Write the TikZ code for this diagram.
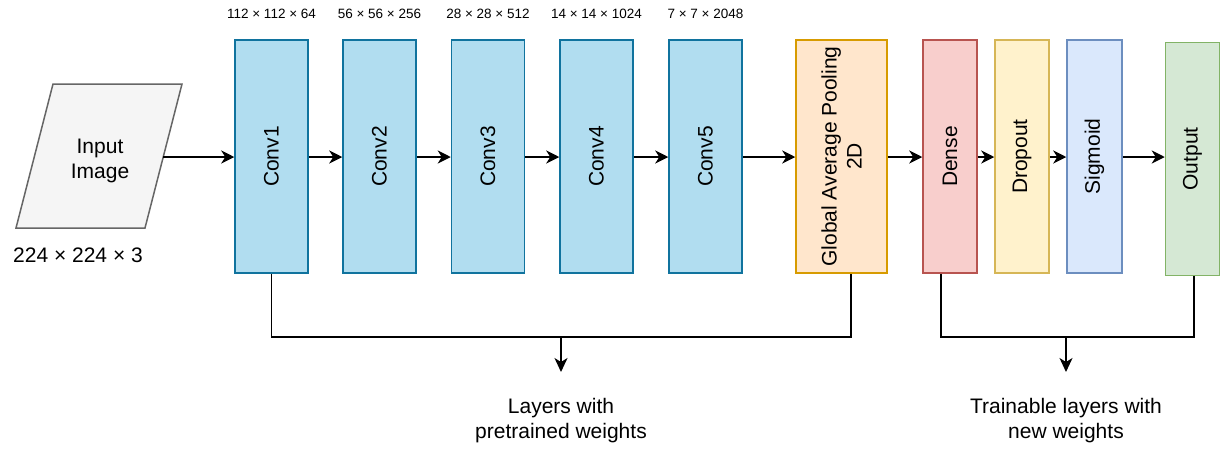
\documentclass[tikz,border=0pt]{standalone}
\usepackage{fontspec}
\setmainfont{Liberation Sans}
\usetikzlibrary{arrows.meta}
\definecolor{convfill}{HTML}{B1DDF0}\definecolor{convdraw}{HTML}{10739E}
\definecolor{gapfill}{HTML}{FFE6CC}\definecolor{gapdraw}{HTML}{D79B00}
\definecolor{densefill}{HTML}{F8CECC}\definecolor{densedraw}{HTML}{B85450}
\definecolor{dropfill}{HTML}{FFF2CC}\definecolor{dropdraw}{HTML}{D6B656}
\definecolor{sigfill}{HTML}{DAE8FC}\definecolor{sigdraw}{HTML}{6C8EBF}
\definecolor{outfill}{HTML}{D5E8D4}\definecolor{outdraw}{HTML}{82B366}
\definecolor{infill}{HTML}{F5F5F5}\definecolor{indraw}{HTML}{666666}
\begin{document}
\begin{tikzpicture}[x=1pt,y=-1pt,
  layer/.style={rectangle,line width=1.5pt,minimum height=233pt,inner sep=0pt},
  conv/.style={layer,fill=convfill,draw=convdraw,minimum width=73pt},
  big/.style={font=\fontsize{21}{25}\selectfont},
  small/.style={font=\fontsize{13.5}{16}\selectfont},
  vtext/.style={big,rotate=90,align=center,inner sep=0pt},
  flow/.style={line width=2pt,-{Stealth[length=13pt,width=13pt,inset=4pt]}},
  brace/.style={line width=1.5pt},
  down/.style={line width=1.5pt,-{Stealth[length=14pt,width=13pt,inset=4pt]}}]
\useasboundingbox (0,0) rectangle (1221,448);
% input
\draw[fill=infill,draw=indraw,line width=1.5pt] (53,84) -- (182,84) -- (145,228) -- (16,228) -- cycle;
\node[big,align=center,inner sep=0pt] (inp) at (100,161) {Input\\Image};
\coordinate (inr) at (163,157);
\node[big,inner sep=0pt] (insize) at (78,255) {224 × 224 × 3};
% conv layers
\node[conv] (c1) at (271.5,156.5) {};
\node[conv] (c2) at (379.5,156.5) {};
\node[conv] (c3) at (488,156.5) {};
\node[conv] (c4) at (596.5,156.5) {};
\node[conv] (c5) at (705.5,156.5) {};
\foreach \n/\t in {c1/Conv1,c2/Conv2,c3/Conv3,c4/Conv4,c5/Conv5}
  \node[vtext] at (\n) {\t};
\node[small] (s1) at (271.5,14) {112 × 112 × 64};
\node[small] (s2) at (379.5,14) {56 × 56 × 256};
\node[small] (s3) at (488,14) {28 × 28 × 512};
\node[small] (s4) at (596.5,14) {14 × 14 × 1024};
\node[small] (s5) at (705.5,14) {7 × 7 × 2048};
% head
\node[layer,fill=gapfill,draw=gapdraw,minimum width=91pt] (gap) at (841.5,156.5) {};
\node[vtext] at (gap) {Global Average Pooling\\2D};
\node[layer,fill=densefill,draw=densedraw,minimum width=54pt] (dense) at (950,156.5) {};
\node[vtext] at (dense) {Dense};
\node[layer,fill=dropfill,draw=dropdraw,minimum width=54pt] (drop) at (1022,156.5) {};
\node[vtext] at (drop) {Dropout};
\node[layer,fill=sigfill,draw=sigdraw,minimum width=55pt] (sig) at (1094.5,156.5) {};
\node[vtext] at (sig) {Sigmoid};
\node[layer,fill=outfill,draw=outdraw,minimum width=54pt] (out) at (1192.5,159) {};
\node[vtext] at (out) {Output};
% flow arrows
\draw[flow] (inr) -- (c1.west |- inr);
\draw[flow] (c1.east |- inr) -- (c2.west |- inr);
\draw[flow] (c2.east |- inr) -- (c3.west |- inr);
\draw[flow] (c3.east |- inr) -- (c4.west |- inr);
\draw[flow] (c4.east |- inr) -- (c5.west |- inr);
\draw[flow] (c5.east |- inr) -- (gap.west |- inr);
\draw[flow] (gap.east |- inr) -- (dense.west |- inr);
\draw[flow] (dense.east |- inr) -- (drop.west |- inr);
\draw[flow] (drop.east |- inr) -- (sig.west |- inr);
\draw[flow] (sig.east |- inr) -- (out.west |- inr);
% brackets
\coordinate (gapb) at ([xshift=9.5pt]gap.south);
\coordinate (denseb) at ([xshift=-9pt]dense.south);
\coordinate (outb) at ([xshift=1.5pt]out.south);
\coordinate (lj) at (561,337);
\coordinate (rj) at (1066,337);
\node[big,align=center,inner sep=0pt] (ltxt) at (561,421) {Layers with\\pretrained weights};
\node[big,align=center,inner sep=0pt] (rtxt) at (1066,421) {Trainable layers with\\new weights};
\draw[brace] (c1.south) |- (lj) -| (gapb);
\draw[brace] (denseb) |- (rj) -| (outb);
\draw[down] (lj) -- (561,372);
\draw[down] (rj) -- (1066,372);
\end{tikzpicture}
\end{document}
